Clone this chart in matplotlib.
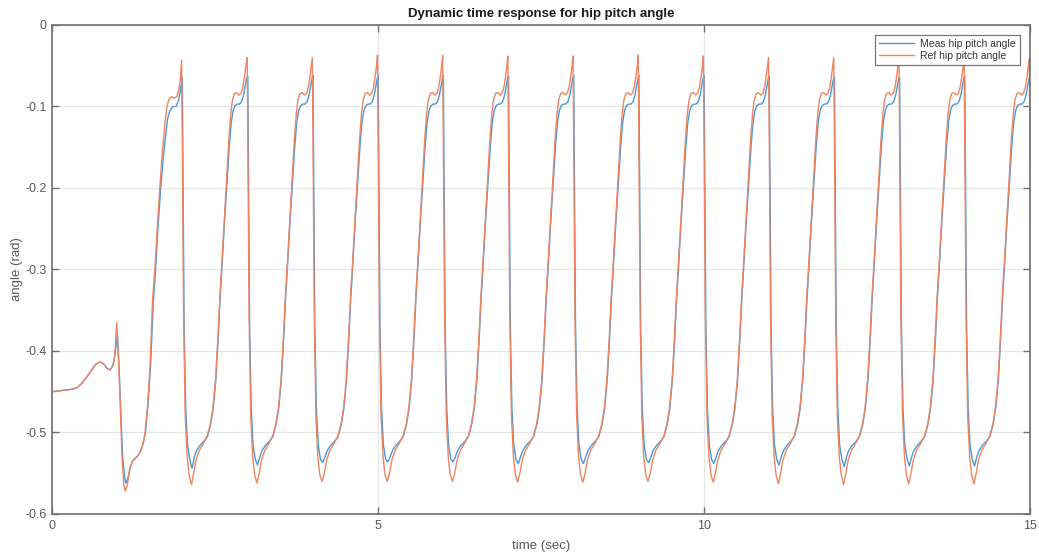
import matplotlib
matplotlib.use("Agg")
import matplotlib.pyplot as plt

# ---- start-up transient (both signals) -------------------------------------
start_t = [0.00, 0.10, 0.20, 0.30, 0.38, 0.45, 0.53, 0.60, 0.66, 0.71, 0.76,
           0.80, 0.85, 0.89, 0.93, 0.96]
start_v = [-0.450, -0.449, -0.448, -0.447, -0.445, -0.440, -0.432, -0.424,
           -0.417, -0.414, -0.414, -0.417, -0.422, -0.423, -0.418, -0.405]

# first step of the reference signal (up to the first full peak)
ref_first_t = [0.99, 1.01, 1.04, 1.07, 1.10, 1.12, 1.15, 1.19, 1.23, 1.27, 1.31,
               1.35, 1.39, 1.42, 1.46, 1.50, 1.54, 1.575, 1.61, 1.65, 1.69, 1.73,
               1.76, 1.79, 1.83, 1.87, 1.91, 1.94, 1.965]
ref_first_v = [-0.365, -0.400, -0.460, -0.530, -0.565, -0.572, -0.565, -0.545,
               -0.535, -0.532, -0.529, -0.524, -0.514, -0.502, -0.470, -0.418,
               -0.336, -0.300, -0.250, -0.200, -0.155, -0.120, -0.100, -0.091,
               -0.088, -0.090, -0.088, -0.080, -0.067]

# first step of the measured signal
meas_first_t = [1.00, 1.02, 1.05, 1.08, 1.11, 1.13, 1.16, 1.20, 1.24, 1.28, 1.32,
                1.36, 1.40, 1.43, 1.47, 1.51, 1.55, 1.585, 1.62, 1.66, 1.70,
                1.74, 1.77, 1.80, 1.85, 1.90, 1.94, 1.97]
meas_first_v = [-0.381, -0.410, -0.470, -0.530, -0.555, -0.562, -0.556, -0.542,
                -0.534, -0.531, -0.528, -0.522, -0.512, -0.500, -0.465, -0.415,
                -0.340, -0.300, -0.250, -0.205, -0.165, -0.135, -0.115, -0.106,
                -0.100, -0.100, -0.092, -0.078]

# ---- steady gait cycles ----------------------------------------------------
peak_t = [1.985, 2.99, 3.99, 4.99, 5.99, 6.99, 7.99, 8.99, 9.99, 10.99,
          11.99, 12.99, 13.99, 14.99]

ref_peak = [-0.043, -0.040, -0.040, -0.037, -0.037, -0.038, -0.038, -0.037,
            -0.038, -0.040, -0.040, -0.040, -0.040, -0.042]
ref_trough = [-0.564, -0.562, -0.560, -0.560, -0.560, -0.561, -0.561, -0.560,
              -0.561, -0.563, -0.564, -0.563, -0.563]
meas_peak = [-0.065, -0.063, -0.062, -0.062, -0.062, -0.063, -0.062, -0.062,
             -0.062, -0.063, -0.064, -0.064, -0.063, -0.064]
meas_trough = [-0.544, -0.540, -0.537, -0.536, -0.536, -0.538, -0.538, -0.537,
               -0.538, -0.540, -0.542, -0.541, -0.541]

# one cycle of each signal, time measured from the reference peak
# ("peak" / "trough" take the per-cycle values above)
ref_cycle_dt = [0.000, 0.012, 0.030, 0.055, 0.085, 0.115, 0.150, 0.185, 0.220,
                0.270, 0.330, 0.390, 0.440, 0.480, 0.520, 0.555, 0.585, 0.615,
                0.650, 0.690, 0.725, 0.755, 0.780, 0.810, 0.845, 0.880, 0.910,
                0.940, 0.965, 0.985]
ref_cycle_v = ["peak", -0.160, -0.360, -0.480, -0.530, -0.552, "trough", -0.550,
               -0.534, -0.522, -0.514, -0.505, -0.490, -0.470, -0.435, -0.385,
               -0.335, -0.295, -0.245, -0.190, -0.140, -0.108, -0.092, -0.084,
               -0.083, -0.086, -0.084, -0.076, -0.063, -0.050]
meas_cycle_dt = [0.010, 0.020, 0.038, 0.062, 0.090, 0.125, 0.160, 0.195, 0.230,
                 0.280, 0.340, 0.395, 0.445, 0.485, 0.525, 0.560, 0.590, 0.620,
                 0.655, 0.695, 0.730, 0.760, 0.790, 0.820, 0.855, 0.890, 0.920,
                 0.950, 0.975, 0.995]
meas_cycle_v = ["peak", -0.170, -0.370, -0.470, -0.515, -0.533, "trough", -0.530,
                -0.522, -0.516, -0.511, -0.505, -0.490, -0.470, -0.435, -0.385,
                -0.335, -0.295, -0.245, -0.195, -0.150, -0.120, -0.105, -0.099,
                -0.097, -0.097, -0.094, -0.086, -0.075, -0.066]


def assemble(head_t, head_v, peaks, troughs, cyc_dt, cyc_v, t_end=15.03):
    """Chain the start-up segment and the gait cycles into one polyline."""
    t, v = list(head_t), list(head_v)
    for k, tp in enumerate(peak_t):
        for dt, val in zip(cyc_dt, cyc_v):
            if tp + dt > t_end:
                break
            if val == "peak":
                val = peaks[k]
            elif val == "trough":
                val = troughs[k]
            t.append(tp + dt)
            v.append(val)
    return t, v


ref_t, ref_v = assemble(start_t + ref_first_t, start_v + ref_first_v,
                        ref_peak, ref_trough, ref_cycle_dt, ref_cycle_v)
meas_t, meas_v = assemble(start_t + meas_first_t, start_v + meas_first_v,
                          meas_peak, meas_trough, meas_cycle_dt, meas_cycle_v)

# ---- figure ------------------------------------------------------------------
plt.rcParams["font.family"] = ["Liberation Sans", "DejaVu Sans"]

fig = plt.figure(figsize=(10.39, 5.58), dpi=100)
ax = fig.add_axes([0.0503, 0.0789, 0.9410, 0.8763])

ax.plot(meas_t, meas_v, color="#4d98d4", lw=1.0, label="Meas hip pitch angle")
ax.plot(ref_t, ref_v, color="#ec8560", lw=1.0, label="Ref hip pitch angle")

ax.set_xlim(0, 15)
ax.set_ylim(-0.6, 0)
ax.set_xticks([0, 5, 10, 15])
ax.set_yticks([-0.6, -0.5, -0.4, -0.3, -0.2, -0.1, 0])
ax.set_yticklabels(["-0.6", "-0.5", "-0.4", "-0.3", "-0.2", "-0.1", "0"])

ax.grid(True, color="#e6e6e6", lw=0.9)
ax.set_axisbelow(True)
for s in ax.spines.values():
    s.set_color("#707070")
    s.set_linewidth(1.2)
ax.tick_params(direction="in", top=True, right=True, length=5, width=1.0,
               color="#707070", labelsize=9, labelcolor="#595959", pad=4)

ax.set_title("Dynamic time response for hip pitch angle", fontsize=9.5,
             fontweight="bold", color="#1a1a1a", pad=6)
ax.set_xlabel("time (sec)", fontsize=9.5, color="#595959", labelpad=6)
ax.set_ylabel("angle (rad)", fontsize=9.5, color="#595959", labelpad=2)

leg = ax.legend(loc="upper right", fontsize=7.5, frameon=True, fancybox=False,
                edgecolor="#777777", framealpha=1.0, handlelength=3.4,
                borderaxespad=1.0, borderpad=0.35, labelspacing=0.2,
                handletextpad=0.6)
leg.get_frame().set_linewidth(0.9)
for txt in leg.get_texts():
    txt.set_color("#333333")

fig.savefig("out.png", dpi=100)
